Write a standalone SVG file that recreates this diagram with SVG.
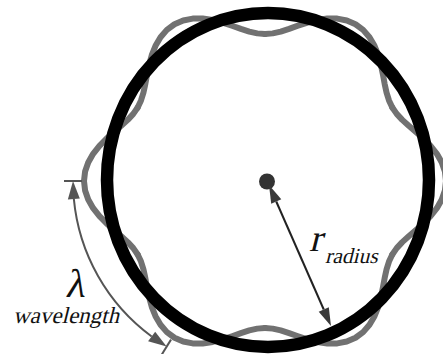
<svg xmlns="http://www.w3.org/2000/svg" xmlns:xlink="http://www.w3.org/1999/xlink" width="443" height="354" viewBox="0 0 443 354">
<style>
.wave{fill:none;stroke:#717171;stroke-width:6;stroke-linecap:round;stroke-linejoin:round}
.ring{fill:none;stroke:#000;stroke-width:12.5}
.head{fill:#3a3a3a}
.head2{fill:#555}
.lbl{font-family:"Liberation Serif","Times New Roman",serif;fill:#111}
</style>
<defs>
<path id="lobe" d="M127.31,73.5 L131.72,67.11 L137.26,61.11 L143.78,55.19 L150.98,49.06 L158.41,42.45 L165.55,35.19 L171.85,27.22 L176.78,18.58 L179.92,9.43 L181,0 L179.92,-9.43 L176.78,-18.58 L171.85,-27.22 L165.55,-35.19 L158.41,-42.45 L150.98,-49.06 L143.78,-55.19 L137.26,-61.11 L131.72,-67.11 L127.31,-73.5"/>
</defs>
<rect width="443" height="354" fill="#fff"/>
<g id="wave" class="wave" transform="translate(265,181)">
<use xlink:href="#lobe" href="#lobe"/>
<use xlink:href="#lobe" href="#lobe" transform="rotate(60)"/>
<use xlink:href="#lobe" href="#lobe" transform="rotate(120)"/>
<use xlink:href="#lobe" href="#lobe" transform="rotate(180)"/>
<use xlink:href="#lobe" href="#lobe" transform="rotate(240)"/>
<use xlink:href="#lobe" href="#lobe" transform="rotate(300)"/>
</g>
<g id="circle">
<ellipse class="ring" cx="268" cy="180" rx="161" ry="167"/>
</g>
<g id="center">
<circle cx="267" cy="181.5" r="8" fill="#333"/>
</g>
<g id="connectors">
<g id="radius-arrow">
<line x1="276.25" y1="201.48" x2="323.75" y2="309.52" stroke="#222" stroke-width="2"/>
<polygon class="head" points="269,185 271.21,203.69 281.29,199.27"/>
<polygon class="head" points="331,326 318.71,311.73 328.79,307.31"/>
</g>
<g id="wavelength-arrow">
<path d="M73.84,198.96 A193,193 0 0 0 151.65,336.5" fill="none" stroke="#555" stroke-width="2"/>
<polygon class="head2" points="73,181 67.87,199.52 79.81,198.4"/>
<polygon class="head2" points="166.6,346.4 148.1,341.3 155.2,331.7"/>
<line x1="64" y1="181" x2="82" y2="181" stroke="#555" stroke-width="2"/>
<line x1="171" y1="339.6" x2="161.5" y2="355" stroke="#555" stroke-width="2"/>
</g>
</g>
<g id="label-r">
<text class="lbl" font-size="38" transform="translate(309,251) skewX(-14)">r</text>
<text class="lbl" font-size="21.5" transform="translate(325,263) skewX(-14)">radius</text>
</g>
<g id="label-lambda">
<text class="lbl" font-size="40" text-anchor="middle" transform="translate(75,297) skewX(-10)">λ</text>
<text class="lbl" font-size="23" text-anchor="middle" transform="translate(66,323) skewX(-14)">wavelength</text>
</g>
</svg>
